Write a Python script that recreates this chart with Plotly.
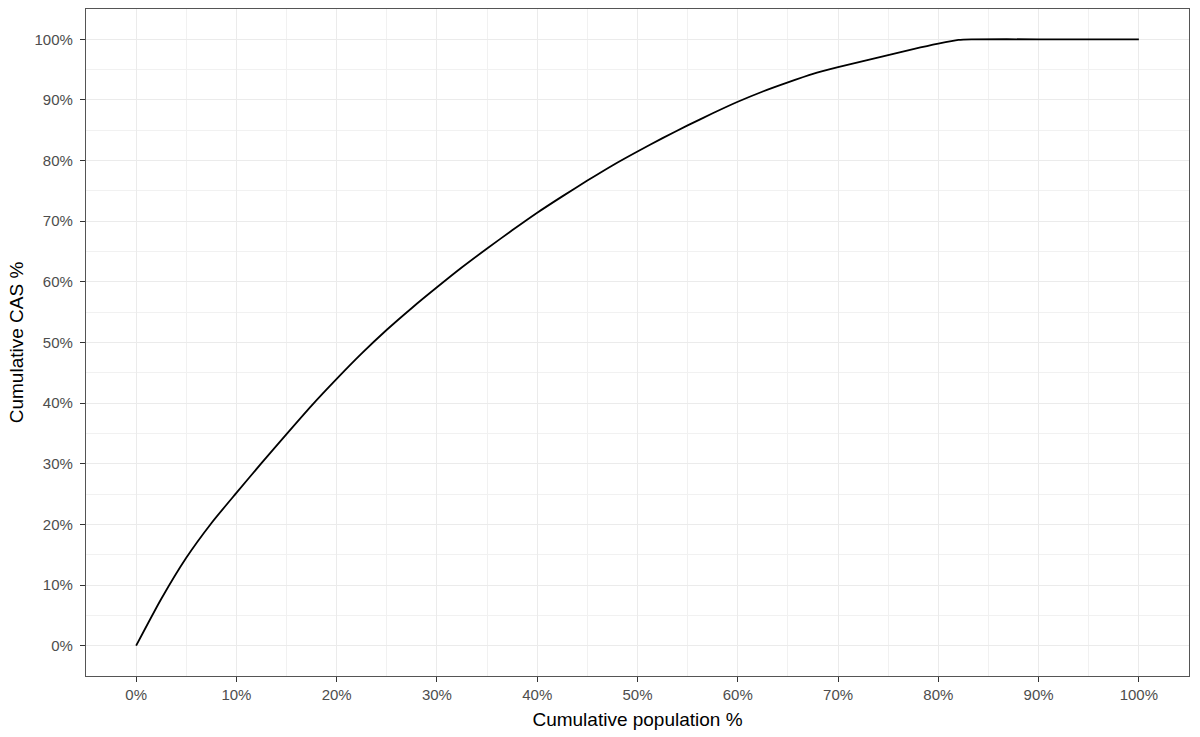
import plotly.graph_objects as go

# ─── DATA ────────────────────────────────────────────────────
pop_pct = [0, 2.5, 5, 7.5, 10, 12.5, 15, 17.5, 20, 22.5, 25, 27.5, 30,
           32.5, 35, 37.5, 40, 42.5, 45, 47.5, 50, 52.5, 55, 57.5, 60,
           62.5, 65, 67.5, 70, 72.5, 75, 77.5, 80, 82, 83.3, 90, 100]
cas_pct = [0, 7.7, 14.5, 20.2, 25.2, 30.1, 34.9, 39.6, 44.0, 48.2, 52.1,
           55.7, 59.1, 62.4, 65.5, 68.5, 71.4, 74.1, 76.7, 79.2, 81.5,
           83.7, 85.8, 87.8, 89.7, 91.4, 92.9, 94.3, 95.4, 96.4, 97.4,
           98.4, 99.3, 99.9, 100, 100, 100]
tick_vals = list(range(0, 101, 10))
tick_text = [f"{v}%" for v in tick_vals]

# ─── STYLE (ggplot theme_bw look) ────────────────────────────
FONT = "Liberation Sans, Arial, sans-serif"
GRID = "#EBEBEB"
BORDER = "#555555"
TICK_TXT = "#4D4D4D"


def _axis(title, standoff, label_gap=0):
    return dict(
        range=[-5, 105],
        automargin=False,
        tickmode="array", tickvals=tick_vals, ticktext=tick_text,
        ticks="outside", ticklen=5, tickwidth=1.2, tickcolor="#333333",
        ticklabelstandoff=label_gap,
        tickfont=dict(size=15, color=TICK_TXT, family=FONT),
        showgrid=True, gridcolor=GRID, gridwidth=1.3,
        minor=dict(dtick=5, tick0=0, showgrid=True, gridcolor="#F1F1F1",
                   gridwidth=0.9, ticks=""),
        zeroline=False,
        showline=True, linecolor=BORDER, linewidth=1.3, mirror=True,
        title=dict(text=title, font=dict(size=19, color="#000000", family=FONT),
                   standoff=standoff),
    )


fig = go.Figure(go.Scatter(
    x=pop_pct, y=cas_pct,
    mode="lines",
    line=dict(color="#000000", width=1.8, shape="spline", smoothing=0.6),
    showlegend=False,
))

fig.update_layout(
    width=1200, height=737,
    paper_bgcolor="#FFFFFF",
    plot_bgcolor="#FFFFFF",
    margin=dict(l=86, r=11, t=9, b=61),
    xaxis=_axis("Cumulative population %", 10),
    yaxis=_axis("Cumulative CAS %", 5, label_gap=4),
    font=dict(family=FONT),
)

# drop the default page margin so the figure sits at the window origin
fig.write_html("out.html", config={"displayModeBar": False},
               post_script="document.body.style.margin='0';")
